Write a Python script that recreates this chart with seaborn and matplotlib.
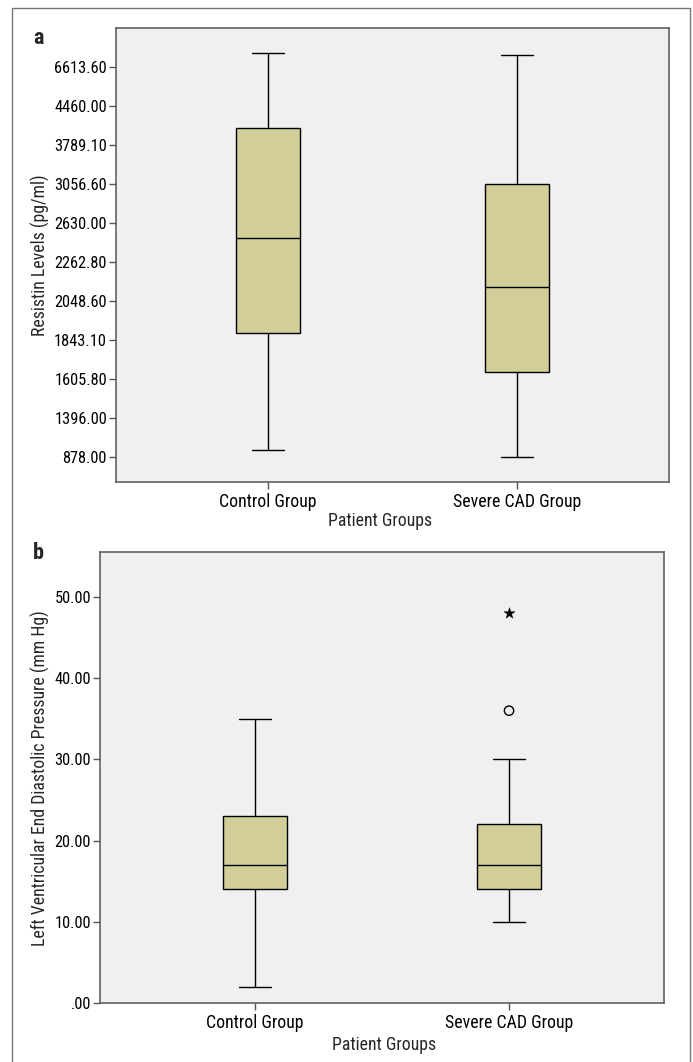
import numpy as np
import pandas as pd
import matplotlib
matplotlib.use("Agg")
import matplotlib.pyplot as plt
from matplotlib.patches import Rectangle
import seaborn as sns

# ---------------- data ----------------
groups = ["Control Group", "Severe CAD Group"]

# Panel a: resistin (pg/ml), axis ticks are unevenly valued but evenly spaced
resistin_ticks = [878.00, 1396.00, 1605.80, 1843.10, 2048.60, 2262.80,
                  2630.00, 3056.60, 3789.10, 4460.00, 6613.60]
# five-number summaries: min, Q1, median, Q3, max
resistin_control = [976.4, 1880.1, 2494.1, 4091.0, 7410.4]
resistin_severe = [883.0, 1653.3, 2127.9, 3056.6, 7259.7]

# Panel b: LVEDP (mm Hg)
lvedp_ticks = [0, 10, 20, 30, 40, 50]
lvedp_control = [2.0, 14.0, 17.0, 23.0, 35.0]
lvedp_severe = [10.0, 14.0, 17.0, 22.0, 30.0]
lvedp_outlier_circle = [36.0]      # Severe CAD Group
lvedp_outlier_star = [48.0]        # Severe CAD Group (extreme)

# ---------------- style ----------------
sns.set_style("ticks")
plt.rcParams["font.family"] = ["Roboto Condensed", "Archivo Narrow", "DejaVu Sans"]
plt.rcParams["font.size"] = 11.8

FS_Y = 11.8     # y tick labels
FS = 12.8       # x tick labels and axis titles
BOX = "#D3CE98"
BG = "#F0F0F0"
SPINE = "#555555"

fig = plt.figure(figsize=(6.93, 10.62), dpi=100)

# outer frame
fig.patches.append(Rectangle((12 / 693, -0.01), (690 - 12) / 693, 1 - 8 / 1062 + 0.01,
                             transform=fig.transFigure, fill=False,
                             edgecolor="#777777", linewidth=1.0, zorder=0))

ax1 = fig.add_axes([116 / 693, 1 - 482 / 1062, 553 / 693, 454 / 1062])
ax2 = fig.add_axes([100 / 693, 1 - 1003 / 1062, 564 / 693, 450.7 / 1062])

# piecewise-linear scale so that the ticks are evenly spaced
n = len(resistin_ticks)
lo_ext = resistin_ticks[0] - 2 * (resistin_ticks[1] - resistin_ticks[0])
hi_ext = resistin_ticks[-1] + 2 * (resistin_ticks[-1] - resistin_ticks[-2])
vals_ext = np.array([lo_ext] + resistin_ticks + [hi_ext])
idx_ext = np.array([-2.0] + list(range(n)) + [n + 1.0])


def fwd(v):
    return np.interp(v, vals_ext, idx_ext)


def inv(i):
    return np.interp(i, idx_ext, vals_ext)


def draw_box(ax, ctrl, sev):
    df = pd.DataFrame({
        "group": [groups[0]] * len(ctrl) + [groups[1]] * len(sev),
        "value": list(ctrl) + list(sev),
    })
    sns.boxplot(data=df, x="group", y="value", order=groups, ax=ax,
                whis=np.inf, width=0.255, color=BOX, saturation=1,
                linecolor="black", linewidth=1.0, showfliers=False)
    ax.set_facecolor(BG)
    for s in ax.spines.values():
        s.set_color(SPINE)
        s.set_linewidth(1.1)
    ax.tick_params(axis="y", length=5, width=1, color=SPINE, pad=1.5,
                   labelsize=FS_Y, labelcolor="black")
    ax.tick_params(axis="x", length=5, width=1, color=SPINE, pad=3,
                   labelsize=FS, labelcolor="black")
    ax.set_xlim(-0.61, 1.61)


# ---- panel a ----
ax1.set_yscale("function", functions=(fwd, inv))
draw_box(ax1, resistin_control, resistin_severe)
ax1.set_ylim(inv(-0.63), inv(11.0))
ax1.set_yticks(resistin_ticks)
ax1.set_yticklabels([f"{t:.2f}" for t in resistin_ticks])
ax1.yaxis.set_minor_locator(matplotlib.ticker.NullLocator())
ax1.set_ylabel("Resistin Levels (pg/ml)", fontsize=FS)
ax1.yaxis.set_label_coords((40 - 116) / 553, 0.5)
ax1.yaxis.label.set_va("center")
ax1.set_xlabel("Patient Groups", fontsize=FS)
ax1.xaxis.set_label_coords((380 - 116) / 553, (482 - 521) / 454)
ax1.xaxis.label.set_va("center")

# ---- panel b ----
draw_box(ax2, lvedp_control, lvedp_severe)
pos_sev = groups.index("Severe CAD Group")
sns.scatterplot(x=[pos_sev] * len(lvedp_outlier_circle), y=lvedp_outlier_circle,
                ax=ax2, marker="o", s=45, facecolor="none", edgecolor="black",
                linewidth=1.0, zorder=5)
sns.scatterplot(x=[pos_sev] * len(lvedp_outlier_star), y=lvedp_outlier_star,
                ax=ax2, marker="*", s=70, color="black", edgecolor="black",
                linewidth=0.3, zorder=5)
ax2.set_xlim(-0.61, 1.61)
ax2.set_xticks([0, 1])
ax2.set_xticklabels(groups)
ax2.set_ylim(0, 55.5)
ax2.set_yticks(lvedp_ticks)
ax2.set_yticklabels([".00"] + [f"{t:.2f}" for t in lvedp_ticks[1:]])
ax2.set_ylabel("Left Ventricular End Diastolic Pressure (mm Hg)", fontsize=FS)
ax2.yaxis.set_label_coords((40 - 100) / 564, 0.5)
ax2.yaxis.label.set_va("center")
ax2.set_xlabel("Patient Groups", fontsize=FS)
ax2.xaxis.set_label_coords((384 - 100) / 564, (1003 - 1045) / 450.7)
ax2.xaxis.label.set_va("center")

# panel letters
fig.text(38 / 693, 1 - 38 / 1062, "a", fontsize=16, fontweight="bold",
         ha="center", va="center")
fig.text(38 / 693, 1 - 553 / 1062, "b", fontsize=16, fontweight="bold",
         ha="center", va="center")

fig.savefig("out.png", dpi=100)
